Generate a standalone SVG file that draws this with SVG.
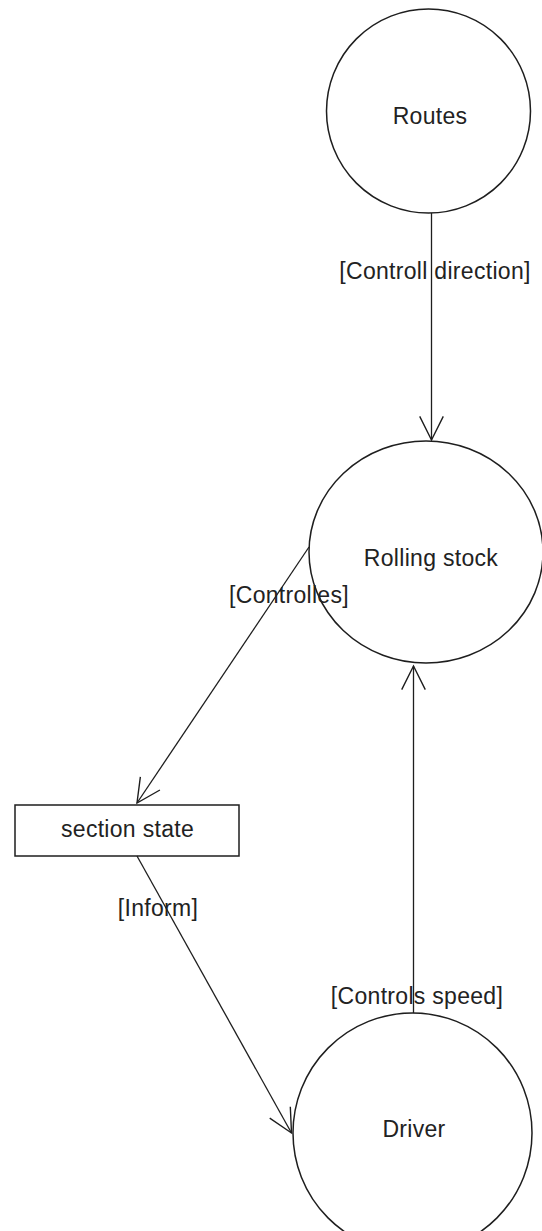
<svg xmlns="http://www.w3.org/2000/svg" width="542" height="1231" viewBox="0 0 542 1231">
  <style>
    .shape { fill: #ffffff; stroke: #1e1e1e; stroke-width: 1.5; }
    .edge { fill: none; stroke: #1e1e1e; stroke-width: 1.3; }
    .label { font-family: "Liberation Sans", Arial, sans-serif; font-size: 23px; fill: #222222; text-anchor: middle; letter-spacing: 0.3px; }
  </style>
  <defs>
    <!-- open V arrowhead -->
    <marker id="open-arrow" markerUnits="userSpaceOnUse" markerWidth="30" markerHeight="30" viewBox="-25 -13 28 26" refX="0" refY="0" orient="auto" overflow="visible">
      <path d="M-22,-11 L0,0 L-22,11" fill="none" stroke="#1e1e1e" stroke-width="1.3"/>
    </marker>
  </defs>

  <rect x="0" y="0" width="542" height="1231" fill="#ffffff"/>

  <g id="node-routes">
    <circle class="shape" cx="428.5" cy="111" r="102"/>
    <text class="label" x="430" y="124">Routes</text>
  </g>

  <g id="node-rolling-stock">
    <ellipse class="shape" cx="426" cy="552" rx="117" ry="111"/>
    <text class="label" x="431" y="566">Rolling stock</text>
  </g>

  <g id="node-section-state">
    <rect class="shape" x="15" y="805" width="224" height="51"/>
    <text class="label" x="127.5" y="837">section state</text>
  </g>

  <g id="node-driver">
    <ellipse class="shape" cx="412.5" cy="1133" rx="119.5" ry="120"/>
    <text class="label" x="414" y="1137">Driver</text>
  </g>

  <g id="connectors">
    <line class="edge" x1="431.5" y1="213" x2="431.5" y2="440" marker-end="url(#open-arrow)"/>
    <text class="label" x="435" y="279">[Controll direction]</text>

    <line class="edge" x1="309" y1="547" x2="137" y2="803" marker-end="url(#open-arrow)"/>
    <text class="label" x="289" y="603">[Controlles]</text>

    <line class="edge" x1="137" y1="856" x2="291.5" y2="1133" marker-end="url(#open-arrow)"/>
    <text class="label" x="158" y="916">[Inform]</text>

    <line class="edge" x1="413.5" y1="1013" x2="413.5" y2="666" marker-end="url(#open-arrow)"/>
    <text class="label" x="417" y="1004">[Controls speed]</text>
  </g>
</svg>
